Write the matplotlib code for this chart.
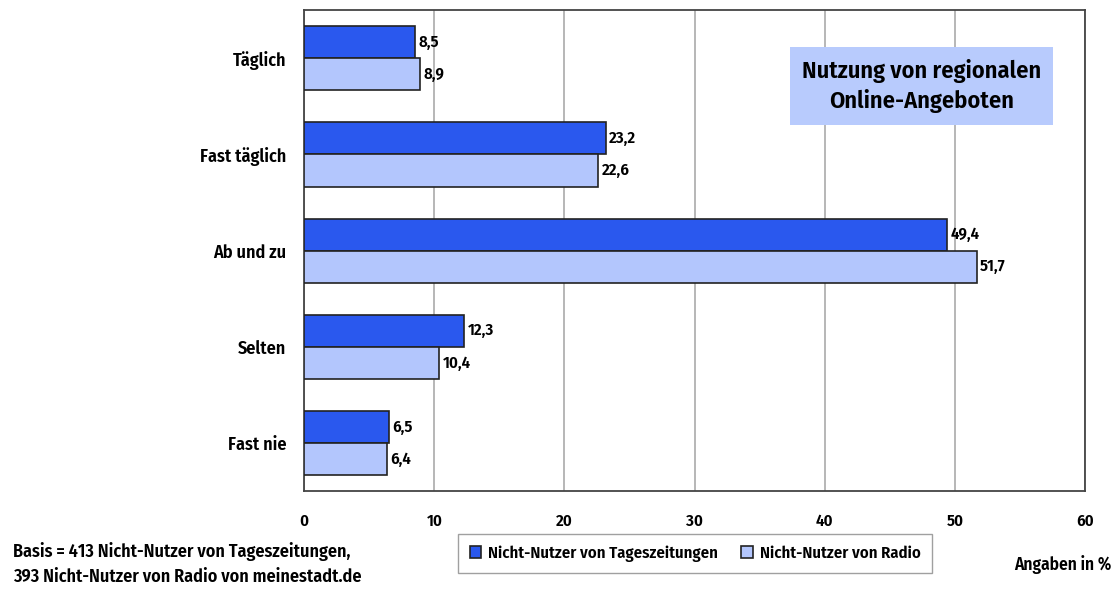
import matplotlib
matplotlib.use("Agg")
import matplotlib.pyplot as plt
import numpy as np

categories = ["Täglich", "Fast täglich", "Ab und zu", "Selten", "Fast nie"]
zeitung = [8.5, 23.2, 49.4, 12.3, 6.5]
radio = [8.9, 22.6, 51.7, 10.4, 6.4]
series_names = ["Nicht-Nutzer von Tageszeitungen", "Nicht-Nutzer von Radio"]
xticks = [0, 10, 20, 30, 40, 50, 60]

plt.rcParams["font.family"] = ["Fira Sans Condensed", "DejaVu Sans"]
W = "semibold"

c_dark = "#2a58ee"
c_light = "#b3c6fd"

fig = plt.figure(figsize=(11.14, 5.99), dpi=100)
ax = fig.add_axes([0.273, 0.180, 0.701, 0.803])

y = np.arange(len(categories))
h = 0.333
ax.barh(y - h / 2, zeitung, height=h, color=c_dark, edgecolor="#222222", linewidth=1.2, label=series_names[0], zorder=3)
ax.barh(y + h / 2, radio, height=h, color=c_light, edgecolor="#222222", linewidth=1.2, label=series_names[1], zorder=3)

for yi, v in zip(y, zeitung):
    ax.text(v + 0.25, yi - h / 2, f"{v:.1f}".replace(".", ","), va="center", ha="left", fontsize=12, fontweight=W)
for yi, v in zip(y, radio):
    ax.text(v + 0.25, yi + h / 2, f"{v:.1f}".replace(".", ","), va="center", ha="left", fontsize=12, fontweight=W)

ax.set_xlim(0, 60)
ax.set_ylim(4.5, -0.5)
ax.set_xticks(xticks)
ax.set_xticklabels([str(t) for t in xticks], fontsize=12, fontweight=W)
ax.set_yticks(y)
ax.set_yticklabels(categories, fontsize=13, fontweight=W)
ax.tick_params(axis="x", length=0, pad=16)
ax.tick_params(axis="y", length=0, pad=13)
ax.xaxis.grid(True, color="#aaaaaa", linewidth=1.2, zorder=0)
ax.set_axisbelow(True)
for s in ax.spines.values():
    s.set_color("#444444")
    s.set_linewidth(1.3)

fig.text(0.827, 0.856, "Nutzung von regionalen\nOnline-Angeboten", ha="center", va="center",
         fontsize=17.5, fontweight=W, linespacing=1.3,
         bbox=dict(boxstyle="square,pad=0.5", facecolor="#b8cbfd", edgecolor="none"))

leg = fig.legend(loc="center", bbox_to_anchor=(0.624, 0.076), ncol=2, frameon=True, fancybox=False,
                 edgecolor="#888888", handlelength=0.7, handleheight=0.7,
                 columnspacing=1.4, handletextpad=0.4, borderpad=0.7,
                 prop={"family": ["Fira Sans Condensed", "DejaVu Sans"], "weight": W, "size": 12})
leg.get_frame().set_linewidth(1.0)

fig.text(0.012, 0.058, "Basis = 413 Nicht-Nutzer von Tageszeitungen,\n393 Nicht-Nutzer von Radio von meinestadt.de",
         ha="left", va="center", fontsize=13, fontweight=W, linespacing=1.5)
fig.text(0.998, 0.058, "Angaben in %", ha="right", va="center", fontsize=12.5, fontweight=W)

fig.savefig("out.png", dpi=100)
